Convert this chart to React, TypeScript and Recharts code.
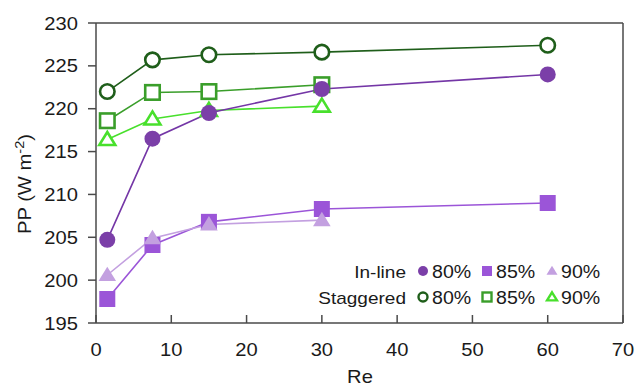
import { LineChart, Line, XAxis, YAxis, ReferenceLine } from 'recharts';

// Re values where PP was evaluated
const reValues = [1.5, 7.5, 15, 30, 60];
const xTicks = [0, 10, 20, 30, 40, 50, 60, 70];
const yTicks = [195, 200, 205, 210, 215, 220, 225, 230];

// PP (W m-2) per arrangement and porosity
const inline80 = [204.7, 216.5, 219.5, 222.3, 224.0];
const inline85 = [197.8, 204.1, 206.8, 208.3, 209.0];
const inline90 = [200.6, 204.9, 206.5, 207.0];
const staggered80 = [222.0, 225.7, 226.3, 226.6, 227.4];
const staggered85 = [218.6, 221.9, 222.0, 222.8];
const staggered90 = [216.4, 218.8, 219.8, 220.3];

type Shape = 'circle' | 'square' | 'triangle';

interface SeriesDef {
  key: string;
  values: number[];
  group: string;
  pct: string;
  shape: Shape;
  filled: boolean;
  color: string;
  lineColor: string;
}

// staggered first so the in-line markers sit on top
const series: SeriesDef[] = [
  { key: 'staggered80', values: staggered80, group: 'Staggered', pct: '80%', shape: 'circle', filled: false, color: '#1f5e1a', lineColor: '#1f5e1a' },
  { key: 'staggered85', values: staggered85, group: 'Staggered', pct: '85%', shape: 'square', filled: false, color: '#3a9e2a', lineColor: '#3a9e2a' },
  { key: 'staggered90', values: staggered90, group: 'Staggered', pct: '90%', shape: 'triangle', filled: false, color: '#48e02c', lineColor: '#48e02c' },
  { key: 'inline80', values: inline80, group: 'In-line', pct: '80%', shape: 'circle', filled: true, color: '#7b3fa8', lineColor: '#7436a6' },
  { key: 'inline85', values: inline85, group: 'In-line', pct: '85%', shape: 'square', filled: true, color: '#9b55d8', lineColor: '#9b55d8' },
  { key: 'inline90', values: inline90, group: 'In-line', pct: '90%', shape: 'triangle', filled: true, color: '#c3a0e0', lineColor: '#c3a0e0' },
];

const rows = reValues.map((re, i) => {
  const row: Record<string, number | undefined> = { re };
  series.forEach((s) => {
    row[s.key] = s.values[i];
  });
  return row;
});

const FONT = '"Liberation Sans", Arial, sans-serif';
const AXIS = '#4a4a4a';
const SX = 1.12; // text is set slightly wide

function Txt({ x, y, anchor = 'start', size = 18, rotate = 0, children }: any) {
  const tf = `translate(${x},${y})${rotate ? ` rotate(${rotate})` : ''} scale(${SX},1)`;
  return (
    <text transform={tf} textAnchor={anchor} fontFamily={FONT} fontSize={size} fill="#1a1a1a">
      {children}
    </text>
  );
}

function marker(shape: Shape, filled: boolean, color: string, cx: number, cy: number, size: number, sw: number, key?: string) {
  const fill = filled ? color : '#fff';
  const stroke = filled ? 'none' : color;
  if (shape === 'circle') {
    return <circle key={key} cx={cx} cy={cy} r={size / 2} fill={fill} stroke={stroke} strokeWidth={sw} />;
  }
  if (shape === 'square') {
    return <rect key={key} x={cx - size / 2} y={cy - size / 2} width={size} height={size} fill={fill} stroke={stroke} strokeWidth={sw} />;
  }
  const h = size * 0.9;
  const w = size * 0.55;
  const d = `M${cx},${cy - h * 0.58} L${cx + w},${cy + h * 0.42} L${cx - w},${cy + h * 0.42} Z`;
  return <path key={key} d={d} fill={fill} stroke={stroke} strokeWidth={sw} strokeLinejoin="miter" />;
}

const makeDot = (s: SeriesDef) => (props: any) => {
  const { cx, cy, index } = props;
  if (cx == null || cy == null) return <g key={`${s.key}-${index}`} />;
  const size = s.filled ? 16 : 14.5;
  return marker(s.shape, s.filled, s.color, cx, cy, size, 2.6, `${s.key}-${index}`);
};

const XTick = (props: any) => {
  const { x, y, payload } = props;
  return (
    <g>
      <line x1={x} y1={y} x2={x} y2={y - 8} stroke={AXIS} strokeWidth={1.5} />
      <Txt x={x} y={y + 33} anchor="middle">
        {payload.value}
      </Txt>
    </g>
  );
};

const YTick = (props: any) => {
  const { x, y, payload } = props;
  return (
    <Txt x={x} y={y + 6.5} anchor="end">
      {payload.value}
    </Txt>
  );
};

const XTitle = () => (
  <Txt x={360} y={383} anchor="middle">
    Re
  </Txt>
);

const YTitle = () => (
  <Txt x={31} y={184} anchor="middle" rotate={-90}>
    PP (W m
    <tspan fontSize={13} dy={-7}>-2</tspan>
    <tspan dy={7}>)</tspan>
  </Txt>
);

const groups = ['In-line', 'Staggered'];
const legendRowY = [271, 297];
const legendColX: Record<string, number> = { '80%': 423, '85%': 487, '90%': 552 };

const LegendBox = () => (
  <svg width={637} height={389} style={{ position: 'absolute', left: 0, top: 0, pointerEvents: 'none' }}>
    {groups.map((g, r) => (
      <g key={g}>
        <Txt x={406} y={legendRowY[r] + 6.5} anchor="end" size={17}>
          {g}
        </Txt>
        {series
          .filter((s) => s.group === g)
          .map((s) => {
            const mx = legendColX[s.pct];
            const my = legendRowY[r];
            return (
              <g key={s.key}>
                {marker(s.shape, s.filled, s.color, mx, my, s.filled ? 10 : 9, 2.4)}
                <Txt x={mx + 9} y={my + 7} size={17.5}>
                  {s.pct}
                </Txt>
              </g>
            );
          })}
      </g>
    ))}
  </svg>
);

export default function App() {
  return (
    <div style={{ position: 'absolute', left: 0, top: 0, width: 637, height: 389, background: '#fff' }}>
      <LineChart width={637} height={389} data={rows} margin={{ top: 23, right: 14, left: 0, bottom: 0 }}>
        <XAxis
          dataKey="re"
          type="number"
          domain={[0, 70]}
          ticks={xTicks}
          height={66}
          tickLine={false}
          tickSize={0}
          tickMargin={0}
          tick={<XTick />}
          axisLine={{ stroke: AXIS, strokeWidth: 1.5 }}
          label={{ content: <XTitle /> }}
        />
        <YAxis
          type="number"
          domain={[195, 230]}
          ticks={yTicks}
          width={96}
          tickSize={8}
          tickMargin={10}
          tick={<YTick />}
          tickLine={{ stroke: AXIS, strokeWidth: 1.5 }}
          axisLine={{ stroke: AXIS, strokeWidth: 1.5 }}
          label={{ content: <YTitle /> }}
        />
        <ReferenceLine y={230} stroke={AXIS} strokeWidth={1.5} />
        <ReferenceLine x={70} stroke={AXIS} strokeWidth={1.5} />
        {series.map((s) => (
          <Line
            key={s.key}
            dataKey={s.key}
            type="linear"
            stroke={s.lineColor}
            strokeWidth={1.6}
            dot={makeDot(s)}
            activeDot={false}
            isAnimationActive={false}
          />
        ))}
      </LineChart>
      <LegendBox />
    </div>
  );
}
